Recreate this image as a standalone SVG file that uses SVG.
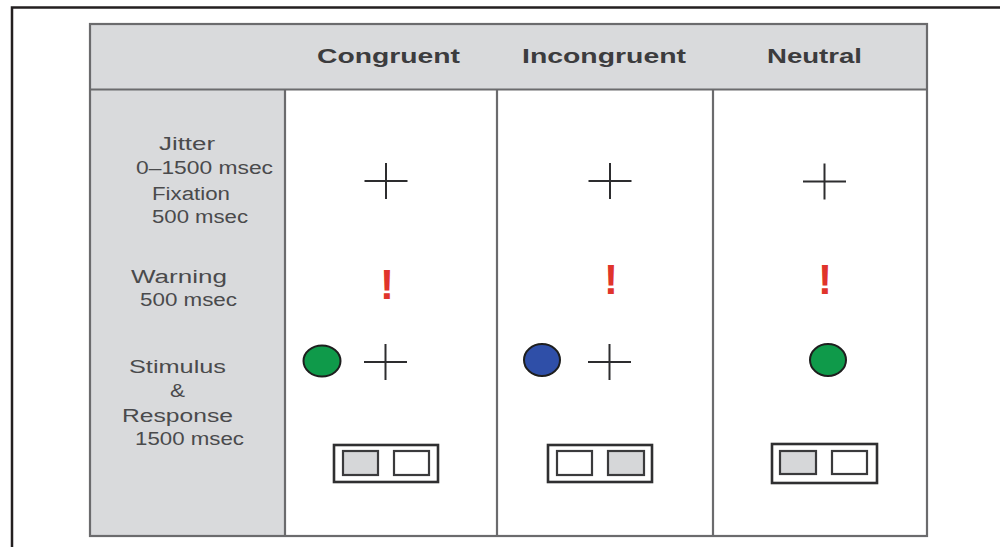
<svg xmlns="http://www.w3.org/2000/svg" width="1000" height="547" viewBox="0 0 1000 547">
  <style>
    .frame { fill: none; stroke: #231f20; stroke-width: 2.5; }
    .grid { fill: none; stroke: #6b6b6d; stroke-width: 2.2; }
    .shade { fill: #d9dadc; }
    .head { font-family: "Liberation Sans", Arial, sans-serif; font-weight: bold; font-size: 21px; fill: #3c3c3e; }
    .label { font-family: "Liberation Sans", Arial, sans-serif; font-size: 18px; fill: #4a4a4c; }
    .cross { stroke: #2d2d2f; stroke-width: 2; fill: none; }
    .warn { font-family: "Liberation Sans", Arial, sans-serif; font-weight: bold; font-size: 42px; fill: #e0342b; text-anchor: middle; }
    .dot { stroke: #1e1e1e; stroke-width: 2; }
    .green { fill: #0f9a4a; }
    .blue { fill: #2f4fa8; }
    .pad { fill: #ffffff; stroke: #2f2f31; stroke-width: 2.6; }
    .key { stroke: #3a3a3c; stroke-width: 2.2; }
    .keyOn { fill: #d6d7d9; }
    .keyOff { fill: #ffffff; }
  </style>
  <defs>
    <g id="fixation">
      <line class="cross" x1="-21.5" y1="0" x2="21.5" y2="0"/>
      <line class="cross" x1="0" y1="-18" x2="0" y2="18"/>
    </g>
  </defs>

  <rect width="1000" height="547" fill="#ffffff"/>

  <!-- page frame -->
  <path class="frame" d="M12 547 V7.5 H1000"/>

  <!-- table background -->
  <g id="table">
    <rect class="shade" x="90" y="24" width="837" height="66"/>
    <rect class="shade" x="90" y="90" width="195" height="446"/>
    <rect x="285" y="90" width="642" height="446" fill="#ffffff"/>
  </g>

  <!-- grid lines -->
  <g id="connectors">
    <rect class="grid" x="90" y="24" width="837" height="512"/>
    <line class="grid" x1="90" y1="89.5" x2="927" y2="89.5"/>
    <line class="grid" x1="285" y1="89.5" x2="285" y2="536"/>
    <line class="grid" x1="497" y1="89.5" x2="497" y2="536"/>
    <line class="grid" x1="713" y1="89.5" x2="713" y2="536"/>
  </g>

  <!-- column headers -->
  <g id="header">
    <text class="head" x="317" y="63" textLength="143" lengthAdjust="spacingAndGlyphs">Congruent</text>
    <text class="head" x="522" y="63" textLength="164" lengthAdjust="spacingAndGlyphs">Incongruent</text>
    <text class="head" x="767" y="63" textLength="95" lengthAdjust="spacingAndGlyphs">Neutral</text>
  </g>

  <!-- row labels -->
  <g id="labels">
    <text class="label" x="159" y="150" textLength="56" lengthAdjust="spacingAndGlyphs">Jitter</text>
    <text class="label" x="136" y="174" textLength="137" lengthAdjust="spacingAndGlyphs">0–1500 msec</text>
    <text class="label" x="152" y="200" textLength="78" lengthAdjust="spacingAndGlyphs">Fixation</text>
    <text class="label" x="152" y="223" textLength="96" lengthAdjust="spacingAndGlyphs">500 msec</text>
    <text class="label" x="131" y="283" textLength="96" lengthAdjust="spacingAndGlyphs">Warning</text>
    <text class="label" x="140" y="306" textLength="97" lengthAdjust="spacingAndGlyphs">500 msec</text>
    <text class="label" x="129" y="373" textLength="97" lengthAdjust="spacingAndGlyphs">Stimulus</text>
    <text class="label" x="170" y="397" textLength="15" lengthAdjust="spacingAndGlyphs">&amp;</text>
    <text class="label" x="122" y="422" textLength="111" lengthAdjust="spacingAndGlyphs">Response</text>
    <text class="label" x="135" y="445" textLength="109" lengthAdjust="spacingAndGlyphs">1500 msec</text>
  </g>

  <!-- congruent trial -->
  <g id="congruent">
    <use href="#fixation" x="386" y="181"/>
    <text class="warn" x="387" y="299">!</text>
    <ellipse class="dot green" cx="322" cy="361" rx="18.5" ry="15.5"/>
    <use href="#fixation" x="385.5" y="362"/>
    <rect class="pad" x="334" y="445" width="104" height="37"/>
    <rect class="key keyOn" x="343" y="451" width="35" height="24"/>
    <rect class="key keyOff" x="394" y="451" width="35" height="24"/>
  </g>

  <!-- incongruent trial -->
  <g id="incongruent">
    <use href="#fixation" x="610" y="181"/>
    <line class="cross" x1="610" y1="163" x2="610" y2="199" stroke-width="3"/>
    <text class="warn" x="611" y="294">!</text>
    <ellipse class="dot blue" cx="542" cy="360" rx="18" ry="16"/>
    <use href="#fixation" x="609.5" y="362"/>
    <rect class="pad" x="548" y="445" width="104" height="37"/>
    <rect class="key keyOff" x="557" y="451" width="35" height="24"/>
    <rect class="key keyOn" x="608" y="451" width="36" height="24"/>
  </g>

  <!-- neutral trial -->
  <g id="neutral">
    <use href="#fixation" x="824.5" y="181.5"/>
    <text class="warn" x="825" y="294">!</text>
    <ellipse class="dot green" cx="828" cy="360" rx="18" ry="16"/>
    <rect class="pad" x="772" y="444" width="105" height="39"/>
    <rect class="key keyOn" x="780" y="451" width="36" height="23"/>
    <rect class="key keyOff" x="832" y="451" width="35" height="23"/>
  </g>
</svg>
